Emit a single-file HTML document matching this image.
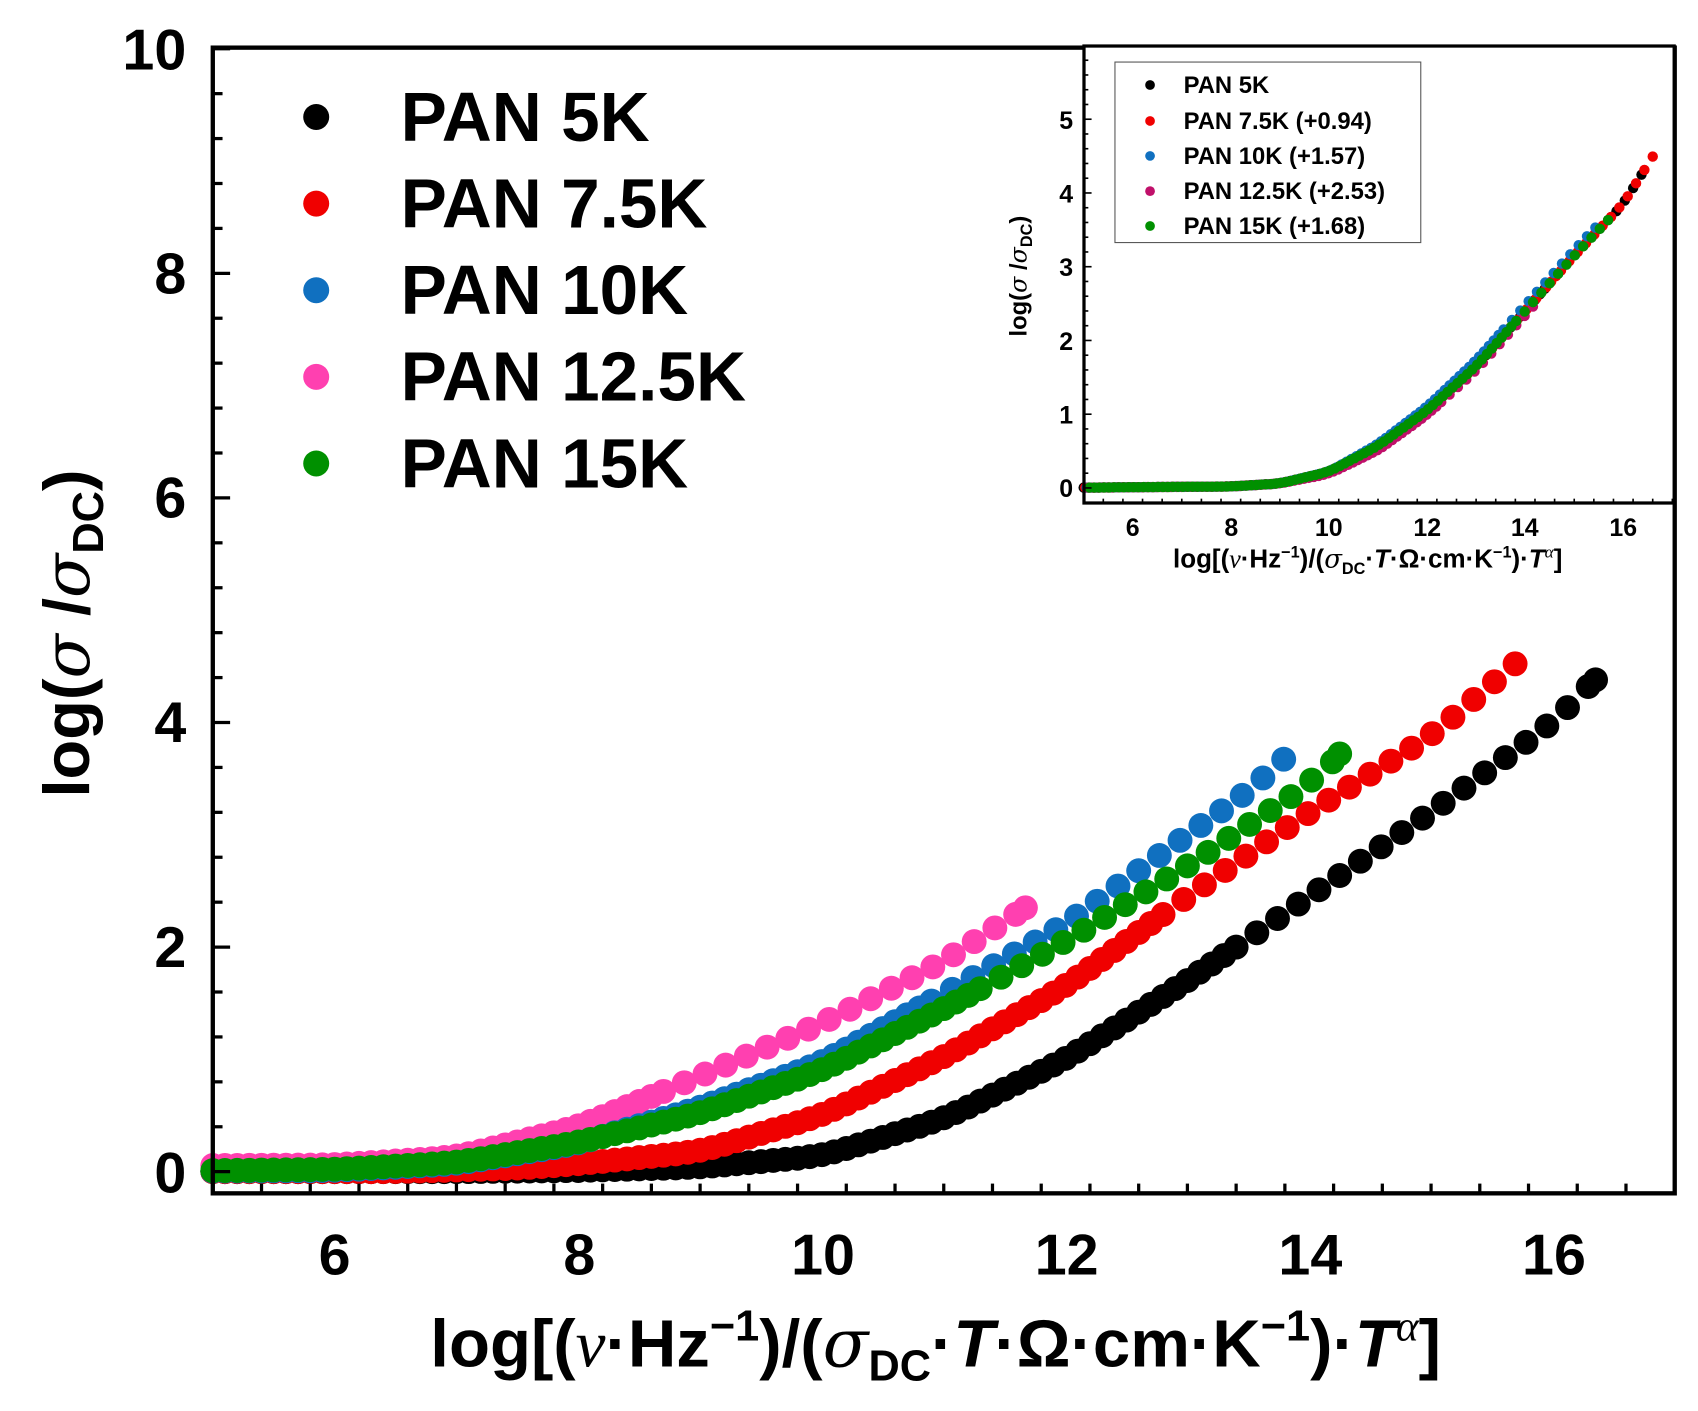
<!DOCTYPE html>
<html><head><meta charset="utf-8"><style>
html,body{margin:0;padding:0;background:#fff;}
svg{display:block;}
text{font-family:"Liberation Sans",Arial,sans-serif;font-weight:bold;fill:#000;}
</style></head><body>
<svg id="s" width="1698" height="1411" viewBox="0 0 1568 1303" preserveAspectRatio="none" xmlns="http://www.w3.org/2000/svg">
<rect width="1568" height="1303" fill="#fff"/>
<g id="main"></g>
<g id="mticks" stroke="#000" stroke-width="3"></g>
<rect x="196.5" y="44" width="1350" height="1058" fill="none" stroke="#000" stroke-width="4"/>
<g font-size="53" text-anchor="middle">
<text x="309" y="1177">6</text><text x="535" y="1177">8</text><text x="760" y="1177">10</text>
<text x="985" y="1177">12</text><text x="1210" y="1177">14</text><text x="1435" y="1177">16</text>
</g>
<g font-size="53" text-anchor="end">
<text x="172" y="1101">0</text><text x="172" y="893">2</text><text x="172" y="685">4</text>
<text x="172" y="478">6</text><text x="172" y="271">8</text><text x="172" y="64">10</text>
</g>
<text transform="translate(82,585) rotate(-90)" font-size="60" text-anchor="middle">log(<tspan font-family="'DejaVu Serif',serif" font-style="italic" font-weight="normal">σ</tspan> /<tspan font-family="'DejaVu Serif',serif" font-style="italic" font-weight="normal">σ</tspan><tspan font-size="40" dy="13">DC</tspan><tspan dy="-13">)</tspan></text>
<text x="864" y="1262" font-size="62" text-anchor="middle">log[(<tspan font-family="'Liberation Serif',serif" font-style="italic" font-weight="normal">ν</tspan>·Hz<tspan font-size="40" dy="-24">−1</tspan><tspan dy="24">)/(</tspan><tspan font-family="'DejaVu Serif',serif" font-style="italic" font-weight="normal">σ</tspan><tspan font-size="40" dy="13">DC</tspan><tspan dy="-13">·</tspan><tspan font-style="italic">T</tspan>·Ω·cm·K<tspan font-size="40" dy="-24">−1</tspan><tspan dy="24">)·</tspan><tspan font-style="italic">T</tspan><tspan font-family="'Liberation Serif',serif" font-style="italic" font-weight="normal" font-size="40" dy="-24">α</tspan><tspan dy="24">]</tspan></text>
<g font-size="64">
<circle cx="292" cy="108" r="12" fill="#000"/><text x="370" y="130">PAN 5K</text>
<circle cx="292" cy="188" r="12" fill="#f00000"/><text x="370" y="210">PAN 7.5K</text>
<circle cx="292" cy="268" r="12" fill="#1070c0"/><text x="370" y="290">PAN 10K</text>
<circle cx="292" cy="348" r="12" fill="#ff40b0"/><text x="370" y="370">PAN 12.5K</text>
<circle cx="292" cy="428" r="12" fill="#009000"/><text x="370" y="450">PAN 15K</text>
</g>
<rect x="1001" y="42.5" width="545" height="422" fill="#fff"/>
<g id="ins"></g>
<g id="iticks" stroke="#000" stroke-width="1.5"></g>
<rect x="1001" y="42.5" width="545" height="422" fill="none" stroke="#000" stroke-width="3"/>
<g font-size="23" text-anchor="middle">
<text x="1046" y="495">6</text><text x="1137" y="495">8</text><text x="1227" y="495">10</text>
<text x="1318" y="495">12</text><text x="1408" y="495">14</text><text x="1499" y="495">16</text>
</g>
<g font-size="23" text-anchor="end">
<text x="991" y="459">0</text><text x="991" y="391">1</text><text x="991" y="323">2</text>
<text x="991" y="255">3</text><text x="991" y="187">4</text><text x="991" y="119">5</text>
</g>
<text transform="translate(948,255) rotate(-90)" font-size="22" text-anchor="middle">log(<tspan font-family="'DejaVu Serif',serif" font-style="italic" font-weight="normal">σ</tspan> /<tspan font-family="'DejaVu Serif',serif" font-style="italic" font-weight="normal">σ</tspan><tspan font-size="15" dy="5">DC</tspan><tspan dy="-5">)</tspan></text>
<text x="1263" y="524" font-size="24" text-anchor="middle">log[(<tspan font-family="'Liberation Serif',serif" font-style="italic" font-weight="normal">ν</tspan>·Hz<tspan font-size="15" dy="-9">−1</tspan><tspan dy="9">)/(</tspan><tspan font-family="'DejaVu Serif',serif" font-style="italic" font-weight="normal">σ</tspan><tspan font-size="15" dy="6">DC</tspan><tspan dy="-6">·</tspan><tspan font-style="italic">T</tspan>·Ω·cm·K<tspan font-size="15" dy="-9">−1</tspan><tspan dy="9">)·</tspan><tspan font-style="italic">T</tspan><tspan font-family="'Liberation Serif',serif" font-style="italic" font-weight="normal" font-size="16" dy="-9">α</tspan><tspan dy="9">]</tspan></text>
<rect x="1029.6" y="57.3" width="282.4" height="166.7" fill="#fff" stroke="#555" stroke-width="1"/>
<g font-size="22">
<circle cx="1062" cy="78.5" r="4.5" fill="#000"/><text x="1093" y="86">PAN 5K</text>
<circle cx="1062" cy="111.7" r="4.5" fill="#f00000"/><text x="1093" y="119.2">PAN 7.5K (+0.94)</text>
<circle cx="1062" cy="144" r="4.5" fill="#1070c0"/><text x="1093" y="151.5">PAN 10K (+1.57)</text>
<circle cx="1062" cy="176.5" r="4.5" fill="#c0106a"/><text x="1093" y="184">PAN 12.5K (+2.53)</text>
<circle cx="1062" cy="208.7" r="4.5" fill="#009000"/><text x="1093" y="216.2">PAN 15K (+1.68)</text>
</g>
</svg>
<script>
(function(){
var NS="http://www.w3.org/2000/svg";
function interp(P,x){if(x<=P[0][0])return P[0][1];for(var i=1;i<P.length;i++){if(x<=P[i][0]){var a=P[i-1],b=P[i];var t=(x-a[0])/(b[0]-a[0]);return a[1]+t*(b[1]-a[1]);}}var a=P[P.length-2],b=P[P.length-1];return b[1]+(x-b[0])*(b[1]-a[1])/(b[0]-a[0]);}
function smooth(P){return function(x){return (interp(P,x-0.15)+interp(P,x)+interp(P,x+0.15))/3;};}
function mk(g,cx,cy,r,col){var c=document.createElementNS(NS,"circle");c.setAttribute("cx",cx.toFixed(1));c.setAttribute("cy",cy.toFixed(1));c.setAttribute("r",r);c.setAttribute("fill",col);g.appendChild(c);}
var series=[
 {col:"#000",end:16.35,P:[[4,0],[7,0],[8,0.01],[9,0.04],[10,0.14],[11,0.47],[12,1.0],[13,1.7],[14,2.45],[15,3.2],[16,4.0],[16.35,4.38],[17,5.2]]},
 {col:"#f00000",end:15.7,P:[[4,0],[6.5,0],[7.5,0.03],[8,0.07],[9,0.18],[10,0.5],[11,1.02],[12,1.65],[13,2.45],[14,3.2],[15,3.88],[15.7,4.53],[16.5,5.3]]},
 {col:"#ff40b0",end:11.67,P:[[4,0.05],[6,0.06],[7,0.13],[8,0.4],[9,0.85],[10,1.32],[11,1.87],[11.67,2.35],[12.5,2.9]]},
 {col:"#1070c0",end:13.83,P:[[4,0.0],[6,0.01],[7,0.07],[8,0.25],[9,0.57],[10,0.97],[11,1.58],[12,2.2],[13,3.0],[13.5,3.38],[13.83,3.72],[14.5,4.3]]},
 {col:"#009000",end:14.25,P:[[4,0.0],[6,0.02],[7,0.08],[8,0.26],[9,0.52],[10,0.9],[11,1.45],[12,2.05],[13,2.72],[14,3.45],[14.25,3.72],[15,4.4]]}];
var g=document.getElementById("main"),gi=document.getElementById("ins");
function X(x){return 196.5+(x-5)*112.5;} function Y(y){return 1082-y*103.7;}
function IX(x){return 1000.7+(x-5)*45.3;} function IY(y){return 450.6-y*68.1;}
series.forEach(function(s){
  var f=smooth(s.P);var pts=[];var x=5.0;
  while(x<=s.end+1e-6){pts.push(x);var st=x<s.end-3?0.1:0.17;x+=st;}
  if(pts[pts.length-1]<s.end-0.05)pts.push(s.end);
  pts.forEach(function(x){var y=x===s.end?interp(s.P,x):f(x);mk(g,X(x),Y(y),11.5,s.col);});
});
var IP=[[4,0],[8,0.02],[9,0.06],[10,0.22],[11,0.57],[12,1.05],[13,1.65],[14,2.4],[15,3.15],[16,3.85],[16.65,4.55],[17,4.9]];
var fi=smooth(IP);
function ramp(x,a,b){return x<a?0:(x>b?1:(x-a)/(b-a));}
var ins=[{c:"#000",s:5,e:16.4},{c:"#f00000",s:5,e:16.65},{c:"#1070c0",s:5,e:15.5},{c:"#c0106a",s:5,e:14.2},{c:"#009000",s:5,e:15.8}];
ins.forEach(function(s,k){var x=s.s+k*0.03;while(x<=s.e+1e-6){var y=fi(x);if(s.c=="#1070c0")y+=0.08*ramp(x,10,13);if(s.c=="#c0106a")y-=0.06*ramp(x,9,11);mk(gi,IX(x),IY(y),4.8,s.c);x+=(x<s.e-2?0.1:0.17);} });
var mt=document.getElementById("mticks"),it=document.getElementById("iticks");
function ln(gg,x1,y1,x2,y2){var l=document.createElementNS(NS,"line");l.setAttribute("x1",x1);l.setAttribute("y1",y1);l.setAttribute("x2",x2);l.setAttribute("y2",y2);gg.appendChild(l);}
for(var k=0;k<=30;k++){var v=5+k*0.4;if(v>17)break;var maj=Math.abs(v-Math.round(v))<1e-6&&Math.round(v)%2==0;var px=X(v);ln(mt,px,1102,px,1102-(maj?16:9));}
for(var k=0;k<=26;k++){var v=k*0.4;if(v>10.01)break;var maj=Math.abs(v-Math.round(v))<1e-6&&Math.round(v)%2==0;var py=Y(v);ln(mt,196.5,py,196.5+(maj?16:9),py);}
for(var k=0;k<=30;k++){var v=5+k*0.4;if(v>17)break;var maj=Math.abs(v-Math.round(v))<1e-6&&Math.round(v)%2==0;var px=IX(v);ln(it,px,464.5,px,464.5-(maj?7:4));}
for(var k=0;k<=30;k++){var v=-0.2+k*0.2;if(v>6)break;var maj=Math.abs(v-Math.round(v))<1e-6;var py=IY(v);ln(it,1001,py,1001+(maj?7:4),py);}
})();
</script>
</body></html>
